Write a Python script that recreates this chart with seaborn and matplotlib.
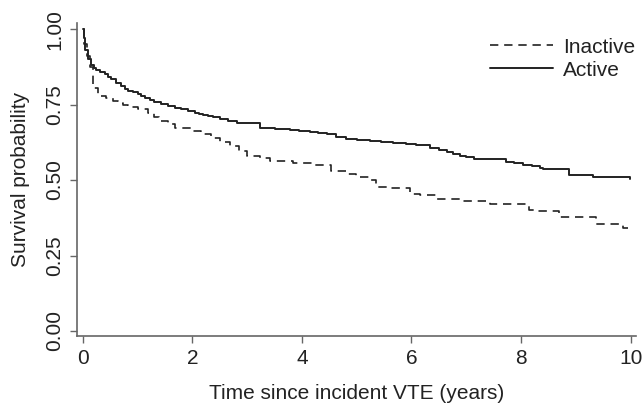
import seaborn as sns
import matplotlib.pyplot as plt
import pandas as pd

# Kaplan-Meier estimates (steps-post)
active_t = [0, 0.02, 0.05, 0.1, 0.15, 0.2, 0.25, 0.32, 0.4, 0.46, 0.52, 0.6, 0.7, 0.77, 0.83,
            0.92, 1.0, 1.07, 1.13, 1.22, 1.3, 1.43, 1.56, 1.68, 1.8, 1.92, 2.04, 2.12, 2.2,
            2.29, 2.38, 2.5, 2.65, 2.81, 3.08, 3.23, 3.5, 3.78, 3.95, 4.14, 4.3, 4.45, 4.62,
            4.81, 5.0, 5.24, 5.45, 5.66, 5.9, 6.09, 6.33, 6.5, 6.64, 6.76, 6.88, 7.0, 7.15,
            7.73, 7.88, 8.03, 8.2, 8.34, 8.40, 8.88, 9.31, 9.98]
active_s = [1.0, 0.97, 0.93, 0.90, 0.88, 0.872, 0.865, 0.857, 0.85, 0.842, 0.835, 0.822, 0.81,
            0.802, 0.795, 0.79, 0.785, 0.779, 0.773, 0.766, 0.76, 0.752, 0.745, 0.74, 0.735,
            0.729, 0.723, 0.72, 0.716, 0.712, 0.708, 0.701, 0.695, 0.69, 0.688, 0.672, 0.668,
            0.665, 0.662, 0.659, 0.655, 0.651, 0.644, 0.637, 0.633, 0.629, 0.626, 0.624, 0.62,
            0.616, 0.607, 0.598, 0.592, 0.586, 0.581, 0.575, 0.570, 0.559, 0.555, 0.551, 0.545,
            0.540, 0.535, 0.518, 0.511, 0.505]

inactive_t = [0, 0.03, 0.07, 0.13, 0.19, 0.28, 0.43, 0.55, 0.64, 0.74, 0.83, 1.0, 1.19, 1.3,
              1.40, 1.55, 1.68, 1.98, 2.15, 2.34, 2.5, 2.69, 2.85, 2.99, 3.23, 3.42, 3.84, 4.2,
              4.54, 4.81, 4.99, 5.24, 5.36, 5.6, 5.97, 6.15, 6.45, 6.94, 7.43, 8.15, 8.28, 8.70,
              9.37, 9.86, 9.95]
inactive_s = [1.0, 0.95, 0.91, 0.873, 0.806, 0.778, 0.771, 0.762, 0.756, 0.749, 0.742, 0.735,
              0.723, 0.71, 0.695, 0.684, 0.673, 0.662, 0.652, 0.640, 0.627, 0.612, 0.596, 0.581,
              0.574, 0.562, 0.557, 0.549, 0.529, 0.521, 0.511, 0.499, 0.477, 0.472, 0.455, 0.452,
              0.438, 0.430, 0.421, 0.402, 0.396, 0.378, 0.355, 0.341, 0.341]

x_ticks = [0, 2, 4, 6, 8, 10]
y_ticks = [0.0, 0.25, 0.5, 0.75, 1.0]

sns.set_style('white')
plt.rcParams['font.family'] = ['Liberation Sans', 'DejaVu Sans']

df_in = pd.DataFrame({'t': inactive_t, 's': inactive_s})
df_ac = pd.DataFrame({'t': active_t, 's': active_s})

fig = plt.figure(figsize=(6.43, 4.04), dpi=100)
ax = fig.add_axes([0.1193, 0.168, 0.870, 0.775])

sns.lineplot(data=df_in, x='t', y='s', ax=ax, drawstyle='steps-post', color='#222222',
             linewidth=1.2, linestyle=(0, (5, 3.5)), label='Inactive')
sns.lineplot(data=df_ac, x='t', y='s', ax=ax, drawstyle='steps-post', color='#222222',
             linewidth=1.4, label='Active')

ax.set_xlim(-0.11, 10.1)
ax.set_ylim(-0.017, 1.02)
ax.set_xticks(x_ticks)
ax.set_xticklabels([str(v) for v in x_ticks])
ax.set_yticks(y_ticks)
ax.set_yticklabels(['%.2f' % v for v in y_ticks], rotation=90, va='center')
ax.tick_params(axis='both', direction='out', length=5, width=1, color='#666666',
               labelsize=15, labelcolor='#222222', pad=4, left=True, bottom=True)

for side in ['top', 'right']:
    ax.spines[side].set_visible(False)
for side in ['left', 'bottom']:
    ax.spines[side].set_color('#666666')
    ax.spines[side].set_linewidth(1.2)

ax.set_xlabel('Time since incident VTE (years)', fontsize=15, color='#222222', labelpad=12)
ax.set_ylabel('Survival probability', fontsize=15, color='#222222', labelpad=11)

leg = ax.legend(loc='upper right', bbox_to_anchor=(1.025, 1.0), frameon=False, fontsize=15,
                handlelength=3.0, handletextpad=0.5, labelspacing=0.2, borderaxespad=0.3)
for txt in leg.get_texts():
    txt.set_color('#222222')

fig.savefig('out.png', dpi=100)
